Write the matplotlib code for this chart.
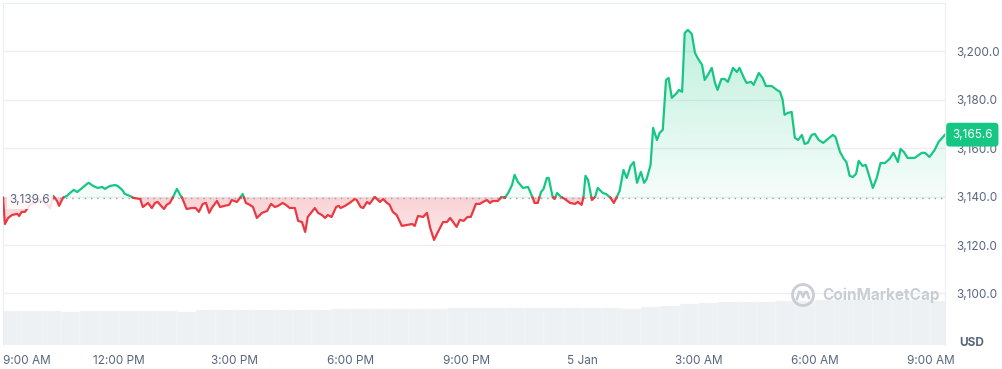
import numpy as np
import matplotlib
matplotlib.use('Agg')
import matplotlib.pyplot as plt
from matplotlib.patches import Ellipse
from matplotlib.lines import Line2D
from matplotlib.ticker import FuncFormatter
import matplotlib.transforms as mtransforms

plt.rcParams['font.family'] = ['Inter', 'DejaVu Sans']

# minutes since 9:00 AM (4 Jan) and price in USD
times = [0, 3, 8, 14, 22, 25, 29, 34, 42, 50, 57, 65, 73, 78, 84, 87, 93, 99, 104, 110,
         115, 123, 130, 133, 140, 147, 154, 158, 166, 174, 178, 185, 189, 197, 202, 213, 217, 225, 231, 236,
         240, 247, 250, 254, 259, 264, 270, 275, 278, 285, 293, 299, 304, 310, 315, 320, 324, 332, 337, 344,
         351, 355, 363, 368, 372, 377, 383, 388, 394, 402, 410, 416, 422, 427, 434, 439, 445, 453, 458, 464,
         469, 473, 484, 489, 495, 500, 504, 510, 517, 521, 524, 531, 538, 546, 549, 555, 559, 565, 569, 577,
         585, 590, 596, 600, 605, 611, 619, 627, 635, 639, 644, 652, 658, 663, 669, 675, 683, 689, 694, 704,
         709, 715, 721, 726, 734, 740, 745, 751, 756, 760, 768, 774, 779, 784, 790, 794, 799, 807, 815, 821,
         825, 830, 835, 839, 844, 847, 853, 856, 860, 866, 872, 880, 888, 892, 898, 901, 904, 908, 914, 919,
         923, 931, 936, 943, 948, 952, 957, 963, 968, 974, 979, 984, 990, 995, 999, 1005, 1009, 1015, 1019, 1024,
         1029, 1033, 1038, 1046, 1049, 1054, 1058, 1063, 1069, 1074, 1078, 1085, 1089, 1094, 1100, 1105, 1109, 1115, 1120, 1125,
         1133, 1139, 1143, 1150, 1154, 1161, 1165, 1173, 1179, 1184, 1193, 1201, 1206, 1210, 1213, 1218, 1224, 1229, 1234, 1240,
         1244, 1249, 1255, 1260, 1266, 1273, 1280, 1288, 1292, 1299, 1305, 1309, 1314, 1319, 1324, 1328, 1334, 1339, 1342, 1350,
         1356, 1362, 1369, 1376, 1382, 1389, 1393, 1398, 1404, 1415, 1426, 1431, 1438, 1446, 1452, 1462]
prices = [3139.6, 3128.7, 3131.2, 3132.4, 3132.9, 3132.0, 3133.7, 3133.7, 3136.6, 3137.4, 3138.6, 3137.8, 3135.3, 3140.3, 3138.2, 3136.2, 3139.5, 3140.3, 3141.5, 3142.8,
          3141.9, 3143.6, 3145.2, 3145.7, 3144.4, 3143.6, 3144.0, 3143.2, 3144.4, 3144.8, 3144.4, 3142.8, 3141.1, 3140.3, 3139.5, 3139.0, 3135.7, 3137.4, 3135.3, 3137.4,
          3137.8, 3135.7, 3134.9, 3136.6, 3137.4, 3139.9, 3143.2, 3140.7, 3139.5, 3134.9, 3135.3, 3135.3, 3133.7, 3137.0, 3137.4, 3133.3, 3135.3, 3138.2, 3135.7, 3136.2,
          3136.6, 3138.6, 3137.8, 3139.5, 3141.1, 3137.4, 3136.6, 3135.7, 3131.2, 3133.3, 3134.1, 3137.0, 3135.7, 3136.2, 3137.4, 3136.6, 3135.3, 3135.3, 3130.0, 3129.5,
          3125.4, 3131.6, 3135.3, 3133.3, 3132.4, 3131.2, 3132.4, 3131.6, 3135.7, 3136.2, 3135.3, 3136.2, 3137.4, 3139.0, 3138.6, 3135.7, 3135.3, 3137.8, 3137.0, 3139.9,
          3137.8, 3139.0, 3137.4, 3136.6, 3133.7, 3132.4, 3127.9, 3128.3, 3128.7, 3127.9, 3132.0, 3131.6, 3133.3, 3127.1, 3122.1, 3125.4, 3129.5, 3129.5, 3131.2, 3127.5,
          3130.4, 3130.0, 3131.6, 3131.6, 3137.0, 3137.0, 3137.8, 3138.6, 3137.4, 3138.2, 3138.2, 3139.9, 3139.5, 3141.5, 3144.8, 3149.0, 3146.1, 3143.6, 3144.0, 3140.3,
          3137.4, 3137.4, 3141.9, 3143.2, 3147.7, 3147.7, 3139.9, 3139.0, 3141.5, 3139.9, 3139.0, 3137.4, 3137.0, 3137.8, 3136.6, 3139.9, 3148.6, 3146.9, 3138.6, 3139.9,
          3143.6, 3141.5, 3141.1, 3139.5, 3137.4, 3139.5, 3142.4, 3151.0, 3147.7, 3152.7, 3154.3, 3145.7, 3150.2, 3145.7, 3147.3, 3153.1, 3168.4, 3163.4, 3166.3, 3167.6,
          3188.2, 3189.0, 3180.8, 3182.9, 3184.1, 3183.3, 3207.6, 3208.9, 3207.2, 3199.4, 3197.3, 3194.4, 3188.2, 3190.3, 3193.2, 3187.0, 3184.1, 3188.6, 3188.6, 3187.4,
          3193.2, 3191.5, 3193.2, 3189.0, 3187.0, 3187.4, 3186.2, 3191.1, 3189.0, 3185.7, 3185.7, 3184.1, 3183.3, 3180.0, 3173.8, 3174.6, 3175.0, 3164.3, 3163.4, 3165.5,
          3161.8, 3162.2, 3165.5, 3165.9, 3163.4, 3162.2, 3163.8, 3165.5, 3164.7, 3158.5, 3155.6, 3154.3, 3148.6, 3148.1, 3149.4, 3154.8, 3152.7, 3153.1, 3150.6, 3143.6,
          3147.7, 3153.9, 3153.9, 3155.6, 3158.1, 3154.3, 3159.7, 3158.5, 3156.0, 3156.0, 3158.1, 3158.1, 3156.4, 3159.3, 3162.6, 3165.6]

# 24h volume (billions USD), one value per 30 minutes
vol_times = list(range(0, 1441, 30))
vol_values = [13.6, 13.6, 13.6, 13.2, 13.6, 13.6, 13.6, 13.8, 13.8, 13.4, 14.0, 14.0, 14.0, 14.0, 14.0, 14.0, 14.2,
              14.4, 14.4, 14.4, 14.4, 14.6, 14.6, 14.8, 14.8, 15.0, 15.0, 15.0, 15.0, 15.0, 15.0, 14.8, 14.6,
              15.2, 15.8, 16.4, 16.8, 17.2, 17.2, 17.4, 17.6, 17.8, 18.0, 18.0, 18.0, 18.0, 18.0, 18.0, 17.6]

open_price = 3139.6
last_price = 3165.6
price_ticks = [3100, 3120, 3140, 3160, 3180, 3200]
time_ticks = [0, 180, 360, 540, 720, 900, 1080, 1260, 1440]
time_labels = ['9:00 AM', '12:00 PM', '3:00 PM', '6:00 PM', '9:00 PM', '5 Jan', '3:00 AM', '6:00 AM', '9:00 AM']

GREEN = '#16c784'
RED = '#ea3943'
GREY_TXT = '#58667e'
GRID = '#eceef1'


def split_at_base(x, y, base):
    # insert crossing points so the two colours meet exactly at the open price
    xs, ys = [x[0]], [y[0]]
    for i in range(1, len(x)):
        a, b = y[i - 1] - base, y[i] - base
        if a * b < 0:
            f = a / (a - b)
            xs.append(x[i - 1] + f * (x[i] - x[i - 1]))
            ys.append(base)
        xs.append(x[i])
        ys.append(y[i])
    return np.array(xs, dtype=float), np.array(ys, dtype=float)


def gradient_fill(ax, x, y_edge, base, color, y_far, a_far, a_near):
    poly = ax.fill_between(x, y_edge, base, facecolor='none', edgecolor='none')
    rgb = matplotlib.colors.to_rgb(color)
    grad = np.zeros((256, 1, 4))
    grad[:, :, :3] = rgb
    grad[:, 0, 3] = np.linspace(a_far, a_near, 256)
    if y_far > base:
        extent = [x[0], x[-1], base, y_far]
    else:
        grad = grad[::-1]
        extent = [x[0], x[-1], y_far, base]
    im = ax.imshow(grad, aspect='auto', extent=extent, origin='upper', zorder=1, interpolation='bilinear')
    im.set_clip_path(poly.get_paths()[0], ax.transData)


def draw_chart():
    fig = plt.figure(figsize=(10.03, 3.69), dpi=100)
    rect = [3 / 1003, 1 - 345 / 369, 942 / 1003, 342 / 369]

    # volume bars behind the price
    vol_ax = fig.add_axes(rect)
    vol_ax.bar(vol_times, vol_values, width=30, align='edge', color='#eef1f4', edgecolor='#f6f7f9', linewidth=0.3)
    vol_ax.set_xlim(0, times[-1])
    vol_ax.set_ylim(0, 136.8)
    vol_ax.axis('off')

    ax = fig.add_axes(rect)
    ax.set_facecolor('none')
    ax.set_xlim(0, times[-1])
    ax.set_ylim(3078.7, 3220)

    xs, ys = split_at_base(times, prices, open_price)
    gradient_fill(ax, xs, np.maximum(ys, open_price), open_price, GREEN, max(prices), 0.27, 0.04)
    gradient_fill(ax, xs, np.minimum(ys, open_price), open_price, RED, min(prices), 0.10, 0.23)

    up = np.ma.masked_where(ys < open_price, ys)
    down = np.ma.masked_where(ys > open_price, ys)
    ax.plot(xs, up, color=GREEN, lw=1.6, zorder=3, solid_joinstyle='round')
    ax.plot(xs, down, color=RED, lw=1.6, zorder=3, solid_joinstyle='round')

    ax.axhline(open_price, color='#9aa0aa', lw=1, ls=(0, (1, 3.5)), zorder=2)

    # axes styling
    ax.yaxis.tick_right()
    ax.set_yticks(price_ticks)
    ax.yaxis.set_major_formatter(FuncFormatter(lambda v, p: '{:,.1f}'.format(v)))
    ax.set_xticks(time_ticks)
    ax.set_xticklabels(time_labels)
    ax.get_xticklabels()[0].set_ha('left')
    ax.tick_params(axis='y', length=0, pad=8, labelsize=8.5, labelcolor=GREY_TXT)
    ax.tick_params(axis='x', length=0, pad=7, labelsize=8.5, labelcolor=GREY_TXT)
    ax.yaxis.grid(True, color=GRID, lw=1)
    ax.set_axisbelow(True)
    for side in ['top', 'left', 'right']:
        ax.spines[side].set_color(GRID)
    ax.spines['bottom'].set_visible(False)

    # open price label
    blend = mtransforms.blended_transform_factory(ax.transAxes, ax.transData)
    ax.text(0.007, open_price - 1.0, '{:,.1f}'.format(open_price), transform=blend, ha='left', va='center',
            fontsize=8.5, color=GREY_TXT, zorder=5,
            bbox=dict(boxstyle='square,pad=0.25', fc='white', ec='none', alpha=0.85))

    # last price tag
    ax.text(1.0075, last_price, '{:,.1f}'.format(last_price), transform=blend, ha='left', va='center',
            fontsize=8.5, color='white', zorder=6, clip_on=False,
            bbox=dict(boxstyle='round,pad=0.5,rounding_size=0.3', fc=GREEN, ec='none'))

    fig.text(972 / 1003, 1 - 343 / 369, 'USD', ha='center', va='center', fontsize=8.5,
             fontweight='bold', color=GREY_TXT)

    # watermark
    wm = '#c8cdd6'
    cx, cy = 803 / 1003, 1 - 295 / 369
    fig.add_artist(Ellipse((cx, cy), 21 / 1003, 21 / 369, transform=fig.transFigure,
                           fill=False, ec=wm, lw=2))
    wave_x = [-6, -4, -2, 0, 2, 4, 6]
    wave_y = [4, -3, -3, 2, -3, -3, 3]
    fig.add_artist(Line2D([cx + dx / 1003 for dx in wave_x], [cy - dy / 369 for dy in wave_y],
                          transform=fig.transFigure, color=wm, lw=1.8, solid_joinstyle='round'))
    fig.text(822 / 1003, cy, 'CoinMarketCap', ha='left', va='center', fontsize=11,
             fontweight='bold', color=wm)

    fig.savefig('out.png', dpi=100)


if __name__ == '__main__':
    draw_chart()
